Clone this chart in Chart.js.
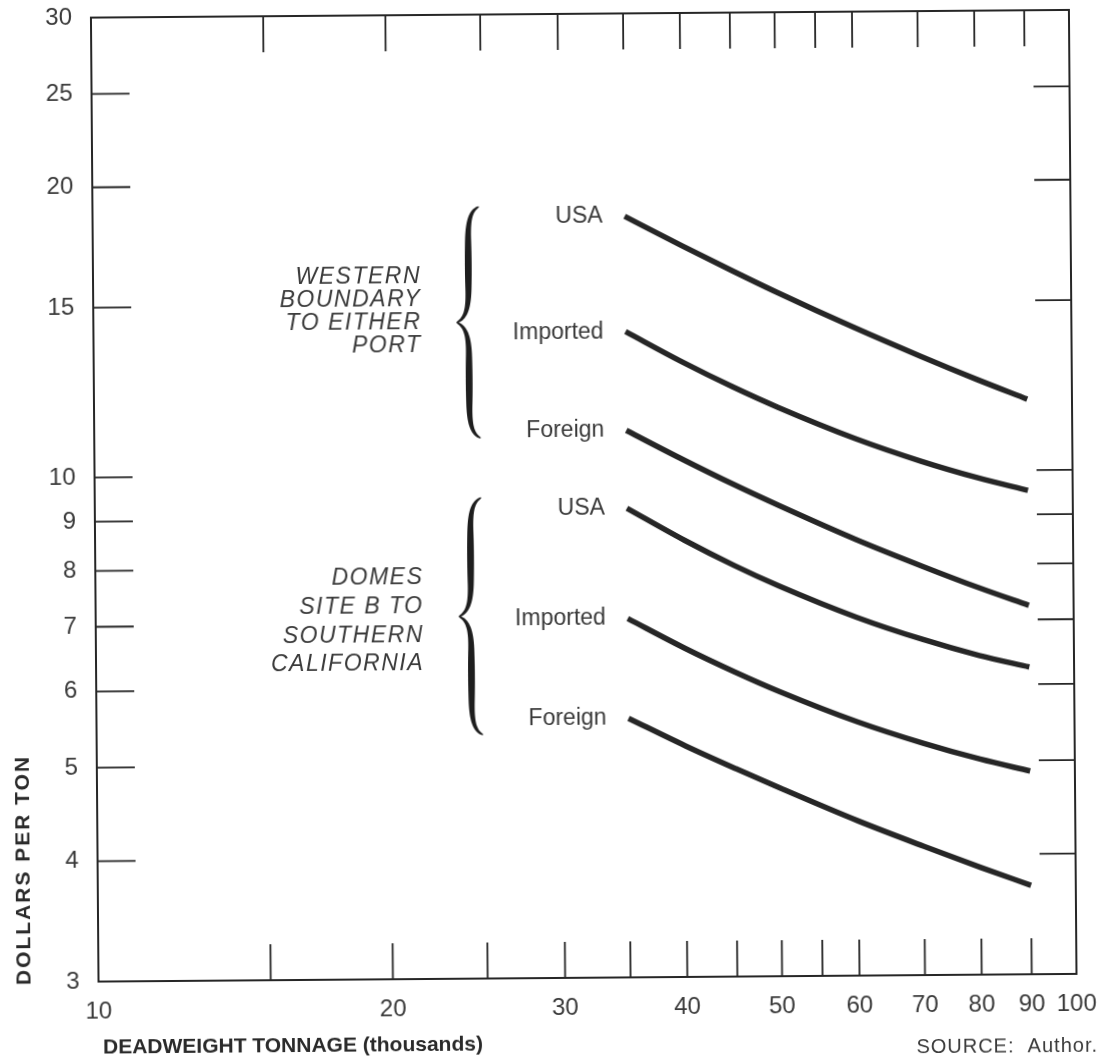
<!DOCTYPE html>
<html>
<head>
<meta charset="utf-8">
<script src="https://cdn.jsdelivr.net/npm/chart.js@4.4.1/dist/chart.umd.min.js"></script>
<style>
  html, body { margin: 0; padding: 0; background: #ffffff; overflow: hidden; }
  #sheet { width: 1104px; height: 1064px; transform: rotate(-0.45deg); }
  canvas { display: block; }
</style>
</head>
<body>
<div id="sheet"><canvas id="chart" width="1104" height="1064"></canvas></div>
<script>
// Deadweight tonnage (thousands) at which each cost curve is read
const tonnage = [35, 40, 45, 50, 60, 70, 80, 90];

// Western boundary to either port (dollars per ton)
const westernUSA      = [18.48, 17.21, 16.2, 15.37, 14.1, 13.16, 12.43, 11.85];
const westernImported = [14.03, 13.03, 12.27, 11.68, 10.82, 10.24, 9.83, 9.53];
const westernForeign  = [11.08, 10.32, 9.72, 9.24, 8.5, 7.97, 7.56, 7.24];

// DOMES site B to southern California (dollars per ton)
const domesUSA      = [9.2, 8.52, 8.01, 7.62, 7.06, 6.69, 6.43, 6.25];
const domesImported = [7.07, 6.58, 6.21, 5.92, 5.5, 5.22, 5.02, 4.875];
const domesForeign  = [5.57, 5.21, 4.93, 4.7, 4.34, 4.08, 3.875, 3.71];

const seriesNames = ['USA', 'Imported', 'Foreign'];
const groupTitles = [
  ['WESTERN', 'BOUNDARY', 'TO EITHER', 'PORT'],
  ['DOMES', 'SITE B TO', 'SOUTHERN', 'CALIFORNIA']
];

// Axis ticks
const xTickLabels = [10, 20, 30, 40, 50, 60, 70, 80, 90, 100];
const xTickMarks  = [15, 20, 25, 30, 35, 40, 45, 50, 55, 60, 70, 80, 90];
const yTickLabels = [3, 4, 5, 6, 7, 8, 9, 10, 15, 20, 25, 30];
const yTickMarks  = [4, 5, 6, 7, 8, 9, 10, 15, 20, 25];

// Braces grouping the curves, in axis units
const braces = [
  { x: 24.2, top: 18.96, bottom: 10.91 },
  { x: 24.2, top: 9.46, bottom: 5.37 }
];

const INK = '#262626';
const TEXT = '#3a3a3a';
const SANS = '"Liberation Sans", Arial, Helvetica, sans-serif';

function curve(values) {
  return {
    data: tonnage.map((t, i) => ({ x: t, y: values[i] })),
    borderColor: INK,
    borderWidth: 5.5,
    borderCapStyle: 'butt',
    pointRadius: 0,
    cubicInterpolationMode: 'monotone',
    fill: false
  };
}

const groups = [
  [westernUSA, westernImported, westernForeign],
  [domesUSA, domesImported, domesForeign]
];

function drawBrace(ctx, X, yT, yB) {
  const yM = (yT + yB) / 2;
  const bez = (p0, p1, p2, p3, t) => {
    const u = 1 - t;
    return [
      u*u*u*p0[0] + 3*u*u*t*p1[0] + 3*u*t*t*p2[0] + t*t*t*p3[0],
      u*u*u*p0[1] + 3*u*u*t*p1[1] + 3*u*t*t*p2[1] + t*t*t*p3[1]
    ];
  };
  const half = [];
  const a0 = [X + 11, yT], a1 = [X + 2.5, yT + 4], a2 = [X, yT + 14], a3 = [X, yT + 34];
  for (let i = 0; i <= 20; i++) half.push(bez(a0, a1, a2, a3, i / 20));
  for (let i = 1; i < 20; i++) half.push([X, a3[1] + (yM - 34 - a3[1]) * i / 20]);
  const b0 = [X, yM - 34], b1 = [X, yM - 14], b2 = [X - 3, yM - 4], b3 = [X - 12, yM];
  for (let i = 0; i <= 20; i++) half.push(bez(b0, b1, b2, b3, i / 20));
  const lens = [0];
  for (let i = 1; i < half.length; i++) {
    lens.push(lens[i - 1] + Math.hypot(half[i][0] - half[i-1][0], half[i][1] - half[i-1][1]));
  }
  const total = lens[lens.length - 1];
  const widthAt = s => 1.0 + 5.8 * Math.pow(Math.sin(Math.PI * s), 0.6);
  const pts = [], ws = [];
  half.forEach((p, i) => { pts.push(p); ws.push(widthAt(lens[i] / total)); });
  for (let i = half.length - 2; i >= 0; i--) {
    pts.push([half[i][0], 2 * yM - half[i][1]]);
    ws.push(widthAt(lens[i] / total));
  }
  const left = [], right = [];
  for (let i = 0; i < pts.length; i++) {
    const p = pts[Math.max(0, i - 1)], n = pts[Math.min(pts.length - 1, i + 1)];
    const dx = n[0] - p[0], dy = n[1] - p[1];
    const d = Math.hypot(dx, dy) || 1;
    const nx = -dy / d, ny = dx / d;
    left.push([pts[i][0] + nx * ws[i] / 2, pts[i][1] + ny * ws[i] / 2]);
    right.push([pts[i][0] - nx * ws[i] / 2, pts[i][1] - ny * ws[i] / 2]);
  }
  ctx.beginPath();
  ctx.moveTo(left[0][0], left[0][1]);
  left.forEach(q => ctx.lineTo(q[0], q[1]));
  for (let i = right.length - 1; i >= 0; i--) ctx.lineTo(right[i][0], right[i][1]);
  ctx.closePath();
  ctx.fill();
}

const frameAndTicks = {
  id: 'frameAndTicks',
  beforeDatasetsDraw(chart) {
    const { ctx, chartArea: a, scales: { x, y } } = chart;
    const len = 36;
    ctx.save();
    ctx.strokeStyle = INK;
    ctx.lineWidth = 2;
    ctx.strokeRect(a.left, a.top, a.right - a.left, a.bottom - a.top);
    ctx.lineWidth = 1.8;
    ctx.beginPath();
    xTickMarks.forEach(v => {
      const px = x.getPixelForValue(v);
      ctx.moveTo(px, a.bottom); ctx.lineTo(px, a.bottom - len);
      ctx.moveTo(px, a.top);    ctx.lineTo(px, a.top + len);
    });
    yTickMarks.forEach(v => {
      const py = y.getPixelForValue(v);
      ctx.moveTo(a.left, py);  ctx.lineTo(a.left + len + 2, py);
      ctx.moveTo(a.right, py); ctx.lineTo(a.right - len, py);
    });
    ctx.stroke();
    ctx.restore();
  },
  afterDraw(chart) {
    const { ctx, scales: { x, y } } = chart;
    ctx.save();

    // curve names at the left end of each curve
    ctx.fillStyle = TEXT;
    ctx.font = '23px ' + SANS;
    ctx.textAlign = 'right';
    ctx.textBaseline = 'middle';
    chart.data.datasets.forEach((ds, i) => {
      const first = ds.data[0];
      ctx.fillText(seriesNames[i % 3], x.getPixelForValue(first.x) - 22, y.getPixelForValue(first.y));
    });

    // braces
    ctx.fillStyle = '#1e1e1e';
    braces.forEach(b => {
      drawBrace(ctx, x.getPixelForValue(b.x), y.getPixelForValue(b.top), y.getPixelForValue(b.bottom));
    });

    // group titles
    ctx.fillStyle = TEXT;
    ctx.font = 'italic 23px ' + SANS;
    ctx.letterSpacing = '1.5px';
    ctx.textAlign = 'right';
    const titleRows = [[276, 299, 322, 345], [577, 606, 635, 663]];
    groupTitles.forEach((rows, g) => {
      rows.forEach((txt, r) => ctx.fillText(txt, 423, titleRows[g][r]));
    });

    // axis titles
    ctx.letterSpacing = '0px';
    ctx.fillStyle = '#2a2a2a';
    ctx.font = 'bold 21px ' + SANS;
    ctx.textAlign = 'left';
    ctx.fillText('DEADWEIGHT TONNAGE (thousands)', 99, 1044);
    ctx.save();
    ctx.translate(21, 981);
    ctx.rotate(-Math.PI / 2);
    ctx.letterSpacing = '2px';
    ctx.fillText('DOLLARS PER TON', 0, 0);
    ctx.restore();

    ctx.fillStyle = TEXT;
    ctx.font = '20px ' + SANS;
    ctx.letterSpacing = '1px';
    ctx.textAlign = 'right';
    ctx.fillText('SOURCE:  Author.', 1094, 1050);
    ctx.restore();
  }
};

new Chart(document.getElementById('chart'), {
  type: 'line',
  data: {
    datasets: groups.flat().map(curve)
  },
  options: {
    responsive: false,
    animation: false,
    devicePixelRatio: 1,
    layout: { padding: { left: 0, top: 14, right: 31, bottom: 0 } },
    plugins: { legend: { display: false }, tooltip: { enabled: false } },
    scales: {
      x: {
        type: 'logarithmic',
        min: 10,
        max: 100,
        afterBuildTicks: s => { s.ticks = xTickLabels.map(v => ({ value: v })); },
        afterFit: s => { s.height = 86; s.paddingLeft = 0; s.paddingRight = 0; },
        grid: { display: false, drawTicks: false },
        border: { display: false },
        ticks: {
          autoSkip: false,
          maxRotation: 0,
          padding: 16,
          color: TEXT,
          font: { family: SANS, size: 24 },
          callback: v => String(v)
        }
      },
      y: {
        type: 'logarithmic',
        min: 3,
        max: 30,
        afterBuildTicks: s => { s.ticks = yTickLabels.map(v => ({ value: v })); },
        afterFit: s => { s.width = 95; s.paddingTop = 0; s.paddingBottom = 0; },
        grid: { display: false, drawTicks: false },
        border: { display: false },
        ticks: {
          autoSkip: false,
          padding: 19,
          color: TEXT,
          font: { family: SANS, size: 24 },
          callback: v => String(v)
        }
      }
    }
  },
  plugins: [frameAndTicks]
});
</script>
</body>
</html>
